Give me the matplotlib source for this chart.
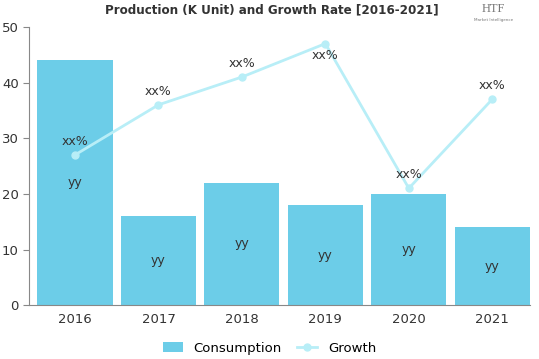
import matplotlib
matplotlib.use("Agg")
import matplotlib.pyplot as plt
import numpy as np

years = ["2016", "2017", "2018", "2019", "2020", "2021"]
consumption = [44, 16, 22, 18, 20, 14]
growth = [27, 36, 41, 47, 21, 37]
bar_labels = ["yy"] * 6
line_labels = ["xx%"] * 6

plt.rcParams['font.family'] = ['DejaVu Sans']
fig = plt.figure(figsize=(5.39, 3.59), dpi=100)
ax = fig.add_axes([0.054, 0.150, 0.929, 0.775])

x = np.arange(len(years))
bar_color = "#6ccde8"
line_color = "#b8eef7"
ax.bar(x, consumption, width=0.9, color=bar_color, label="Consumption", zorder=2)
ax.plot(x, growth, color=line_color, marker="o", markersize=5, linewidth=2, label="Growth", zorder=3)

for xi, v, t in zip(x, consumption, bar_labels):
    ax.text(xi, v / 2, t, ha="center", va="center", fontsize=9, color="#333333", zorder=4)
for xi, v, t in zip(x, growth, line_labels):
    if v + 5 > 50:
        ax.text(xi, v - 1.0, t, ha="center", va="top", fontsize=9, color="#333333", zorder=4)
    else:
        ax.text(xi, v + 1.3, t, ha="center", va="bottom", fontsize=9, color="#333333", zorder=4)

ax.set_xlim(-0.55, 5.45)
ax.set_ylim(0, 50)
ax.set_yticks([0, 10, 20, 30, 40, 50])
ax.set_xticks(x)
ax.set_xticklabels(years)
ax.tick_params(axis="both", labelsize=9.5, colors="#333333", length=4)
ax.tick_params(axis="y", color="#888888")
ax.tick_params(axis="x", length=0, pad=6)
for s in ["top", "right"]:
    ax.spines[s].set_visible(False)
for s in ["left", "bottom"]:
    ax.spines[s].set_color("#888888")

fig.text(0.505, 0.972, "Production (K Unit) and Growth Rate [2016-2021]",
         ha="center", va="center", fontsize=9.5, fontweight="heavy", fontstretch="condensed",
         family=["DejaVu Sans"], color="#333333")
fig.text(0.915, 0.975, "HTF", ha="center", va="center", fontsize=9, color="#777777",
         family=["Liberation Serif", "DejaVu Serif"])
fig.text(0.915, 0.945, "Market Intelligence", ha="center", va="center", fontsize=3, color="#777777")

handles, labels = ax.get_legend_handles_labels()
order = [labels.index("Consumption"), labels.index("Growth")]
fig.legend([handles[i] for i in order], [labels[i] for i in order],
           loc="center", bbox_to_anchor=(0.5, 0.03), ncol=2, frameon=False, fontsize=9.5,
           handlelength=1.5, columnspacing=1.2)

fig.savefig("out.png", dpi=100)
